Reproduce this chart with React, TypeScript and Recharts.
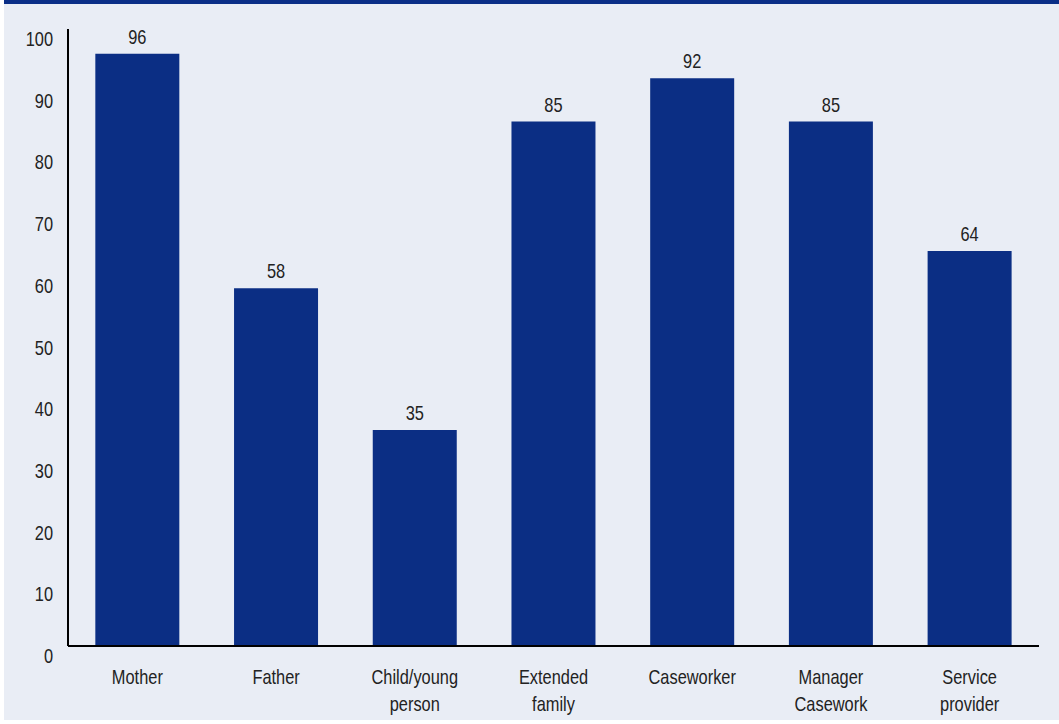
import React from "react";
import { BarChart, Bar, XAxis, YAxis, LabelList } from "recharts";

const categories = ["Mother", "Father", "Child/young person", "Extended family", "Caseworker", "Manager Casework", "Service provider"];
const categoryLines = [["Mother"], ["Father"], ["Child/young", "person"], ["Extended", "family"], ["Caseworker"], ["Manager", "Casework"], ["Service", "provider"]];
const values = [96, 58, 35, 85, 92, 85, 64];
const yTicks = [0, 10, 20, 30, 40, 50, 60, 70, 80, 90, 100];

const data = categories.map((c, i) => ({ name: c, value: values[i] }));

const FONT = "'Liberation Sans', Arial, sans-serif";
const TEXT = "#222222";
const BAR = "#0b2e84";
const SX = 0.82;
const FS = 20;

const NarrowText = ({ x, y, anchor, children }: any) => (
  <g transform={`translate(${x},${y}) scale(${SX},1)`}>
    <text x={0} y={0} textAnchor={anchor} fontFamily={FONT} fontSize={FS} fill={TEXT}>
      {children}
    </text>
  </g>
);

const XTick = (props: any) => {
  const { x, y, index } = props;
  const lines = categoryLines[index] || [props.payload.value];
  return (
    <g>
      {lines.map((l: string, i: number) => (
        <NarrowText key={i} x={x} y={y + 38 + i * 27} anchor="middle">{l}</NarrowText>
      ))}
    </g>
  );
};

const YTick = (props: any) => {
  const { x, y, payload } = props;
  return <NarrowText x={x - 15} y={y + 17} anchor="end">{payload.value}</NarrowText>;
};

const ValueLabel = (props: any) => {
  const { x, y, width, value } = props;
  return <NarrowText x={x + width / 2} y={y - 10} anchor="middle">{value}</NarrowText>;
};

export default function App() {
  return (
    <div style={{ position: "absolute", left: 0, top: 0, width: 1059, height: 724, background: "#ffffff" }}>
      <div style={{ position: "absolute", left: 4, top: 0, width: 1055, height: 4, background: "#0a2e87" }} />
      <div style={{ position: "absolute", left: 4, top: 4, width: 1055, height: 716, background: "#e9edf5" }} />
      <div style={{ position: "absolute", left: 0, top: 0 }}>
        <BarChart width={1059} height={724} data={data} margin={{ top: 29, right: 20, left: 8, bottom: 18 }} barCategoryGap="19.7%">
          <XAxis dataKey="name" tick={<XTick />} tickLine={false} tickSize={0} tickMargin={0} axisLine={{ stroke: "#000", strokeWidth: 2 }} height={60} interval={0} />
          <YAxis domain={[0, 100]} ticks={yTicks} tick={<YTick />} tickLine={false} tickSize={0} tickMargin={0} axisLine={{ stroke: "#000", strokeWidth: 2 }} width={60} interval={0} />
          <Bar dataKey="value" fill={BAR} isAnimationActive={false}>
            <LabelList dataKey="value" position="top" content={<ValueLabel />} />
          </Bar>
        </BarChart>
      </div>
    </div>
  );
}
